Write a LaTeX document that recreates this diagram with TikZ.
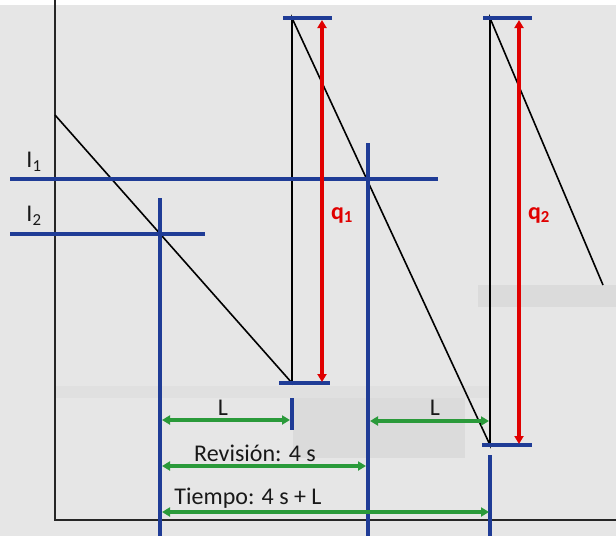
\documentclass[tikz,border=0pt]{standalone}
\usepackage{fontspec}
\setmainfont{Carlito}
\usetikzlibrary{arrows.meta}
\definecolor{bg}{HTML}{E6E6E6}
\definecolor{navy}{HTML}{1F3C96}
\definecolor{grn}{HTML}{2A9A3A}
\definecolor{rd}{HTML}{E00000}
\begin{document}
\begin{tikzpicture}[x=1pt,y=-1pt,
  ax/.style={line width=2.8pt,black!85},
  saw/.style={line width=1.6pt,black},
  bl/.style={line width=3.2pt,navy},
  qarr/.style={line width=3.4pt,rd,{Triangle[length=8pt,width=9pt]}-{Triangle[length=8pt,width=9pt]}},
  garr/.style={line width=3.2pt,grn,{Triangle[length=8pt,width=9pt]}-{Triangle[length=8pt,width=9pt]}},
  lab/.style={font=\fontsize{24}{26}\selectfont,text=black!90,inner sep=0pt},
  qlab/.style={font=\fontsize{24}{26}\selectfont\bfseries,text=rd,inner sep=0pt}]
\useasboundingbox (0,0) rectangle (616,536);
\fill[white] (0,0) rectangle (616,536);
\fill[bg] (0,5) rectangle (616,536);
% faint artefacts
\fill[black!12] (55,386) rectangle (490,398);
\fill[black!14] (293,398) rectangle (465,458);
\fill[black!14] (478,285) rectangle (616,307);
% coordinates
\coordinate (axtop) at (55,0);
\coordinate (orig) at (55,520);
\coordinate (axright) at (616,520);
\coordinate (s0) at (55,115);
\coordinate (b1) at (292,383);
\coordinate (t1) at (292,18);
\coordinate (b2) at (490,445);
\coordinate (t2) at (490,18);
\coordinate (s3) at (603,285);
% axes
\draw[ax] (axtop) -- (orig) -- (axright);
% sawtooth
\draw[saw] (s0) -- (b1) -- (t1) -- (b2) -- (t2) -- (s3);
% blue bars
\coordinate (t1a) at (283,18); \coordinate (t1b) at (332,18);
\coordinate (t2a) at (483,18); \coordinate (t2b) at (532,18);
\coordinate (b1a) at (279,383); \coordinate (b1b) at (330,383);
\coordinate (b2a) at (482,445); \coordinate (b2b) at (532,445);
\draw[bl] (t1a) -- (t1b);
\draw[bl] (t2a) -- (t2b);
\draw[bl] (b1a) -- (b1b);
\draw[bl] (b2a) -- (b2b);
% I1, I2
\coordinate (i1a) at (10,179); \coordinate (i1b) at (438,179);
\coordinate (i2a) at (10,234); \coordinate (i2b) at (205,234);
\draw[bl] (i1a) -- (i1b);
\draw[bl] (i2a) -- (i2b);
\node[lab] (li1) at (34,162) {I\textsubscript{1}};
\node[lab] (li2) at (34,216) {I\textsubscript{2}};
% blue verticals
\coordinate (v1a) at (160,198); \coordinate (v1b) at (160,536);
\coordinate (v2a) at (368,143); \coordinate (v2b) at (368,536);
\coordinate (v3a) at (490,455); \coordinate (v3b) at (490,536);
\coordinate (v4a) at (292,398); \coordinate (v4b) at (292,430);
\draw[bl] (v1a) -- (v1b);
\draw[bl] (v2a) -- (v2b);
\draw[bl] (v3a) -- (v3b);
\draw[bl] (v4a) -- (v4b);
% red arrows
\coordinate (q1t) at (322,20); \coordinate (q1b) at (322,382);
\coordinate (q2t) at (519,20); \coordinate (q2b) at (519,444);
\draw[qarr] (q1b) -- (q1t);
\draw[qarr] (q2b) -- (q2t);
\node[qlab] (lq1) at (342,215) {q\textsubscript{1}};
\node[qlab] (lq2) at (539,215) {q\textsubscript{2}};
% green arrows
\coordinate (g1a) at (162,420); \coordinate (g1b) at (290,420);
\coordinate (g2a) at (370,421); \coordinate (g2b) at (489,421);
\coordinate (g3a) at (162,466); \coordinate (g3b) at (366,466);
\coordinate (g4a) at (162,512); \coordinate (g4b) at (489,512);
\draw[garr] (g1a) -- (g1b);
\draw[garr] (g2a) -- (g2b);
\draw[garr] (g3a) -- (g3b);
\draw[garr] (g4a) -- (g4b);
\node[lab] (lL1) at (223,408) {L};
\node[lab] (lL2) at (435,408) {L};
\node[lab] (lrev) at (255,453) {Revisión: 4 s};
\node[lab] (ltie) at (248,498) {Tiempo: 4 s + L};
\end{tikzpicture}
\end{document}
